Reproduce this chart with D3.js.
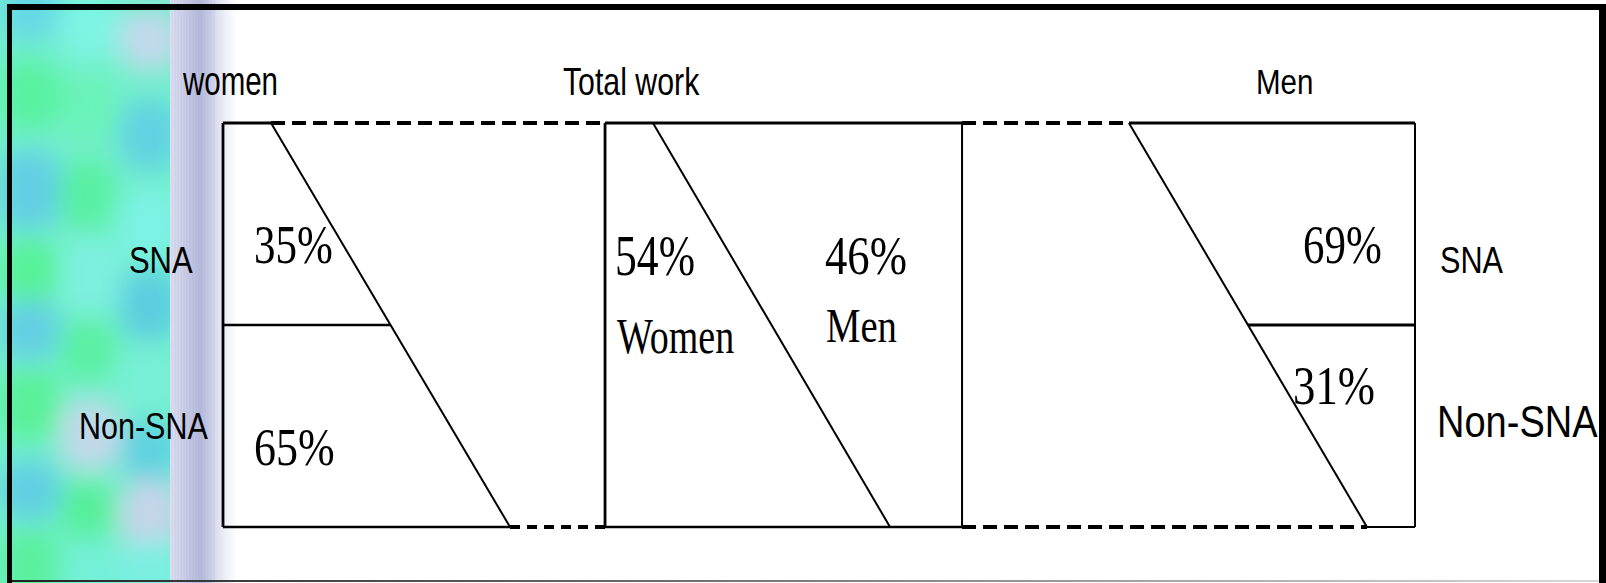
<!DOCTYPE html>
<html>
<head>
<meta charset="utf-8">
<script src="https://cdn.jsdelivr.net/npm/d3@7"></script>
<style>
  html, body { margin: 0; padding: 0; background: #fff; }
  svg { display: block; }
</style>
</head>
<body>
<svg id="chart" width="1606" height="583"></svg>
<script>
// ---------------- data ----------------
const panelTitles = ["women", "Total work", "Men"];
const rowLabels = ["SNA", "Non-SNA"];
const womenSplit = [35, 65];          // SNA, Non-SNA share of women's work
const totalSplit = [54, 46];          // Women, Men share of total work
const totalLabels = ["Women", "Men"];
const menSplit = [69, 31];            // SNA, Non-SNA share of men's work

// ---------------- layout (diagram units) ----------------
const W = 1606, H = 583;
const svg = d3.select("#chart");
const x = d3.scaleLinear().domain([0, 100]).range([223, 1415]);
const y = d3.scaleLinear().domain([0, 1]).range([123, 527]);
const fmt = v => v + "%";

const edges = [0, 32.05, 62.0, 100];        // panel boundaries
const diagTop = [4.03, 36.07, 76.0];        // slanted divider tops
const diagBot = [24.08, 55.96, 95.97];      // slanted divider bottoms
const splitY = 0.5;                         // SNA / Non-SNA split
const along = (i, t) => diagTop[i] + (diagBot[i] - diagTop[i]) * t;

// ---------------- background decoration ----------------
const defs = svg.append("defs");
const blur = defs.append("filter").attr("id", "blur")
  .attr("x", "-50%").attr("y", "-50%").attr("width", "200%").attr("height", "200%");
blur.append("feGaussianBlur").attr("stdDeviation", 13);

const lav = defs.append("linearGradient").attr("id", "lav").attr("x1", 0).attr("x2", 1).attr("y1", 0).attr("y2", 0);
[[0, "#dfe2f2"], [0.15, "#d2d5eb"], [0.3, "#c3c6e2"], [0.45, "#b6bada"], [0.55, "#c6c9e3"], [0.7, "#dfe1f1"], [0.85, "#f2f3f9"], [1, "#ffffff"]]
  .forEach(([o, c]) => lav.append("stop").attr("offset", o).attr("stop-color", c));

const bottomGrad = defs.append("linearGradient").attr("id", "bg").attr("x1", 0).attr("x2", 1);
bottomGrad.append("stop").attr("offset", 0).attr("stop-color", "#222");
bottomGrad.append("stop").attr("offset", 1).attr("stop-color", "#d8d8d8");

const pat = svg.append("g");
pat.append("rect").attr("x", 0).attr("y", 0).attr("width", 172).attr("height", H).attr("fill", "#72efcc");
const clip = defs.append("clipPath").attr("id", "pclip");
clip.append("rect").attr("x", 0).attr("y", 0).attr("width", 172).attr("height", H);
const blobs = pat.append("g").attr("clip-path", "url(#pclip)").append("g").attr("filter", "url(#blur)");
const blobList = [
  [0, -20, 60, 60, "#66d8e6"], [60, -10, 60, 70, "#7ef4e4"], [120, 10, 60, 60, "#c4d8ec"],
  [0, 60, 60, 70, "#58f2a0"], [60, 70, 55, 70, "#6af3b8"], [120, 100, 60, 70, "#60d2e2"],
  [0, 150, 60, 80, "#62cfe4"], [60, 160, 55, 70, "#58f0a0"], [120, 190, 60, 70, "#7df2e6"],
  [0, 240, 60, 60, "#56f296"], [60, 240, 60, 70, "#7ef0e0"], [120, 270, 60, 70, "#5ccde0"],
  [0, 300, 60, 60, "#64cfe4"], [60, 320, 55, 60, "#5af0a0"], [120, 350, 60, 60, "#78f0d8"],
  [0, 370, 60, 70, "#58f198"], [60, 400, 60, 70, "#c4d8ea"], [120, 420, 60, 60, "#5ed2e0"],
  [0, 460, 60, 60, "#60cfe3"], [60, 480, 55, 60, "#56ef9a"], [120, 480, 60, 70, "#c6d4ea"],
  [0, 530, 60, 70, "#5af09e"], [60, 540, 60, 60, "#74f0d8"], [120, 540, 60, 60, "#7cefe2"]
];
blobs.selectAll("rect").data(blobList).join("rect")
  .attr("x", d => d[0]).attr("y", d => d[1]).attr("width", d => d[2]).attr("height", d => d[3])
  .attr("rx", 24).attr("fill", d => d[4]);

svg.append("rect").attr("x", 170).attr("y", 0).attr("width", 68).attr("height", H).attr("fill", "url(#lav)");
// fine vertical stripes
svg.append("g").selectAll("line").data(d3.range(172, 216, 3)).join("line")
  .attr("x1", d => d).attr("x2", d => d).attr("y1", 0).attr("y2", H)
  .attr("stroke", "#a3a8d0").attr("stroke-opacity", 0.3).attr("stroke-width", 1);

// ---------------- text helper ----------------
const SANS = "'Liberation Sans', Arial, sans-serif";
const SERIF = "'Liberation Serif', 'Times New Roman', serif";
function label(txt, ux, uy, fs, sy, fam) {
  svg.append("text")
    .attr("transform", `translate(${x(ux)},${y(uy)}) scale(1,${sy})`)
    .attr("font-family", fam).attr("font-size", fs).attr("fill", "#000")
    .text(txt);
}

// ---------------- marks ----------------
const g = svg.append("g").attr("fill", "none").attr("stroke", "#000");
const seg = (x1, y1, x2, y2, w, dash) => {
  const l = g.append("line").attr("x1", x(x1)).attr("y1", y(y1)).attr("x2", x(x2)).attr("y2", y(y2))
    .attr("stroke-width", w);
  if (dash) l.attr("stroke-dasharray", dash);
  return l;
};

// women panel (left)
seg(edges[0], 0, edges[0], 1, 2.8);
seg(edges[0], 0, diagTop[0], 0, 2.8);
seg(edges[0], 1, diagBot[0], 1, 2.6);
seg(edges[0], splitY, along(0, splitY), splitY, 2.6);
seg(diagTop[0], 0, diagBot[0], 1, 2);
seg(diagTop[0], 0, edges[1], 0, 4, "14,7");
seg(diagBot[0], 1, edges[1], 1, 4, "10,7");

// total work panel (middle)
seg(edges[1], 0, edges[2], 0, 2.8);
seg(edges[1], 1, edges[2], 1, 2.6);
seg(edges[1], 0, edges[1], 1, 2.8);
seg(edges[2], 0, edges[2], 1, 2);
seg(diagTop[1], 0, diagBot[1], 1, 2);

// men panel (right)
seg(edges[2], 0, diagTop[2], 0, 4, "14,7");
seg(edges[2], 1, diagBot[2], 1, 4, "14,7");
seg(diagTop[2], 0, edges[3], 0, 2.8);
seg(edges[3], 0, edges[3], 1, 2);
seg(diagBot[2], 1, edges[3], 1, 2);
seg(along(2, splitY), splitY, edges[3], splitY, 2.8);
seg(diagTop[2], 0, diagBot[2], 1, 2);

// panel titles
label(panelTitles[0], -3.36, -0.069, 29.5, 1.4, SANS);
label(panelTitles[1], 28.52, -0.069, 30.3, 1.26, SANS);
label(panelTitles[2], 86.66, -0.071, 29.5, 1.2, SANS);

// row labels
label(rowLabels[0], -7.89, 0.371, 31, 1.22, SANS);
label(rowLabels[1], -12.08, 0.782, 30.5, 1.19, SANS);
label(rowLabels[0], 102.1, 0.371, 30.6, 1.19, SANS);
label(rowLabels[1], 101.85, 0.777, 38, 1.18, SANS);

// women shares
label(fmt(womenSplit[0]), 2.6, 0.3465, 43, 1.26, SERIF);
label(fmt(womenSplit[1]), 2.6, 0.8465, 44, 1.22, SERIF);

// total work shares
label(fmt(totalSplit[0]), 32.89, 0.376, 43.6, 1.29, SERIF);
label(totalLabels[0], 33.05, 0.569, 38, 1.35, SERIF);
label(fmt(totalSplit[1]), 50.5, 0.374, 44.7, 1.25, SERIF);
label(totalLabels[1], 50.59, 0.542, 38.7, 1.25, SERIF);

// men shares
label(fmt(menSplit[0]), 90.6, 0.3465, 43, 1.27, SERIF);
label(fmt(menSplit[1]), 89.77, 0.696, 44.7, 1.22, SERIF);

// ---------------- outer frame ----------------
svg.append("rect").attr("x", 7).attr("y", 4).attr("width", W - 7).attr("height", 6).attr("fill", "#000");
svg.append("rect").attr("x", 7).attr("y", 4).attr("width", 5).attr("height", H - 4).attr("fill", "#000");
svg.append("rect").attr("x", 1599).attr("y", 4).attr("width", 7).attr("height", H - 4).attr("fill", "#000");
svg.append("rect").attr("x", 12).attr("y", 580).attr("width", 1587).attr("height", 2).attr("fill", "url(#bg)");
</script>
</body>
</html>
